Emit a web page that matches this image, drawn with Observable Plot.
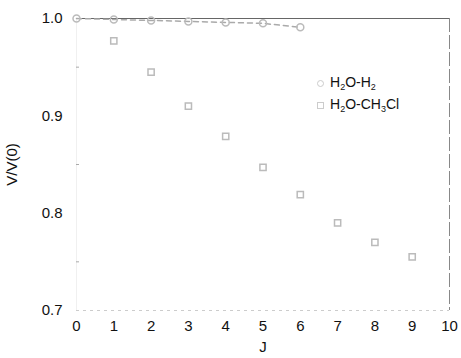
<!DOCTYPE html>
<html>
<head>
<meta charset="utf-8">
<script src="https://cdn.jsdelivr.net/npm/d3@7"></script>
<script src="https://cdn.jsdelivr.net/npm/@observablehq/plot@0.6"></script>
<style>
  html, body { margin: 0; padding: 0; background: #fff; }
  #wrap { position: relative; width: 461px; height: 358px; font-family: "Liberation Sans", Arial, sans-serif; }
  #legend { position: absolute; left: 317px; top: 72px; font-size: 14px; line-height: 20px; color: #111; }
  #legend .row { display: flex; align-items: baseline; white-space: nowrap; }
  #legend sub { font-size: 9px; position: relative; top: 3px; vertical-align: baseline; }
  #legend .mk { display: inline-block; width: 5px; height: 5px; border: 1px solid #ccc; margin-right: 6px; }
  #legend .c { border-radius: 50%; }
</style>
</head>
<body>
<div id="wrap"></div>
<script>
const h2J = [0, 1, 2, 3, 4, 5, 6];
const h2V = [1.0, 0.999, 0.998, 0.997, 0.996, 0.995, 0.991];
const ch3clJ = [1, 2, 3, 4, 5, 6, 7, 8, 9];
const ch3clV = [0.977, 0.945, 0.910, 0.879, 0.847, 0.819, 0.790, 0.770, 0.755];
const xTicks = [0, 1, 2, 3, 4, 5, 6, 7, 8, 9, 10];
const yTicks = [0.7, 0.8, 0.9, 1.0];
const yMinor = [0.75, 0.85, 0.95];

const h2 = h2J.map((j, i) => ({J: j, v: h2V[i]}));
const ch = ch3clJ.map((j, i) => ({J: j, v: ch3clV[i]}));

const chart = Plot.plot({
  width: 461,
  height: 358,
  marginLeft: 76,
  marginRight: 12,
  marginTop: 18,
  marginBottom: 48,
  style: {fontFamily: "Liberation Sans, Arial, sans-serif", fontSize: "15px", color: "#111", background: "#fff"},
  x: {type: "linear", domain: [0, 10]},
  y: {type: "linear", domain: [0.7, 1.0]},
  marks: [
    Plot.ruleY([0.7], {stroke: "#ccc", strokeDasharray: "3,4"}),
    Plot.ruleX([0], {stroke: "#f0f0f0"}),
    Plot.ruleY([1.0], {stroke: "#666"}),
    Plot.ruleX([10], {stroke: "#888", strokeDasharray: "14,3"}),
    Plot.axisY({ticks: yMinor, tickSize: -3, tickFormat: () => "", stroke: "#aaa", label: null}),
    Plot.axisX({ticks: xTicks, tickFormat: d => String(d), tickSize: 0, tickPadding: 10, fontSize: 15, label: "J", labelAnchor: "center", labelArrow: "none", labelOffset: 41}),
    Plot.axisY({ticks: yTicks, tickFormat: d3.format(".1f"), tickSize: 0, tickPadding: 14, fontSize: 15, label: "V/V(0)", labelAnchor: "center", labelArrow: "none", labelOffset: 70}),
    Plot.line(h2, {x: "J", y: "v", stroke: "#aaa", strokeDasharray: "5,4"}),
    Plot.dot(h2, {x: "J", y: "v", symbol: "circle", r: 3.5, stroke: "#bbb", fill: "none"}),
    Plot.dot(ch, {x: "J", y: "v", symbol: "square", r: 3.5, stroke: "#bbb", fill: "none"})
  ]
});
const wrap = document.getElementById("wrap");
wrap.appendChild(chart);
const lg = document.createElement("div");
lg.id = "legend";
lg.innerHTML = '<div class="row"><span class="mk c"></span>H<sub>2</sub>O-H<sub>2</sub></div>' +
               '<div class="row"><span class="mk"></span>H<sub>2</sub>O-CH<sub>3</sub>Cl</div>';
wrap.appendChild(lg);
</script>
</body>
</html>
